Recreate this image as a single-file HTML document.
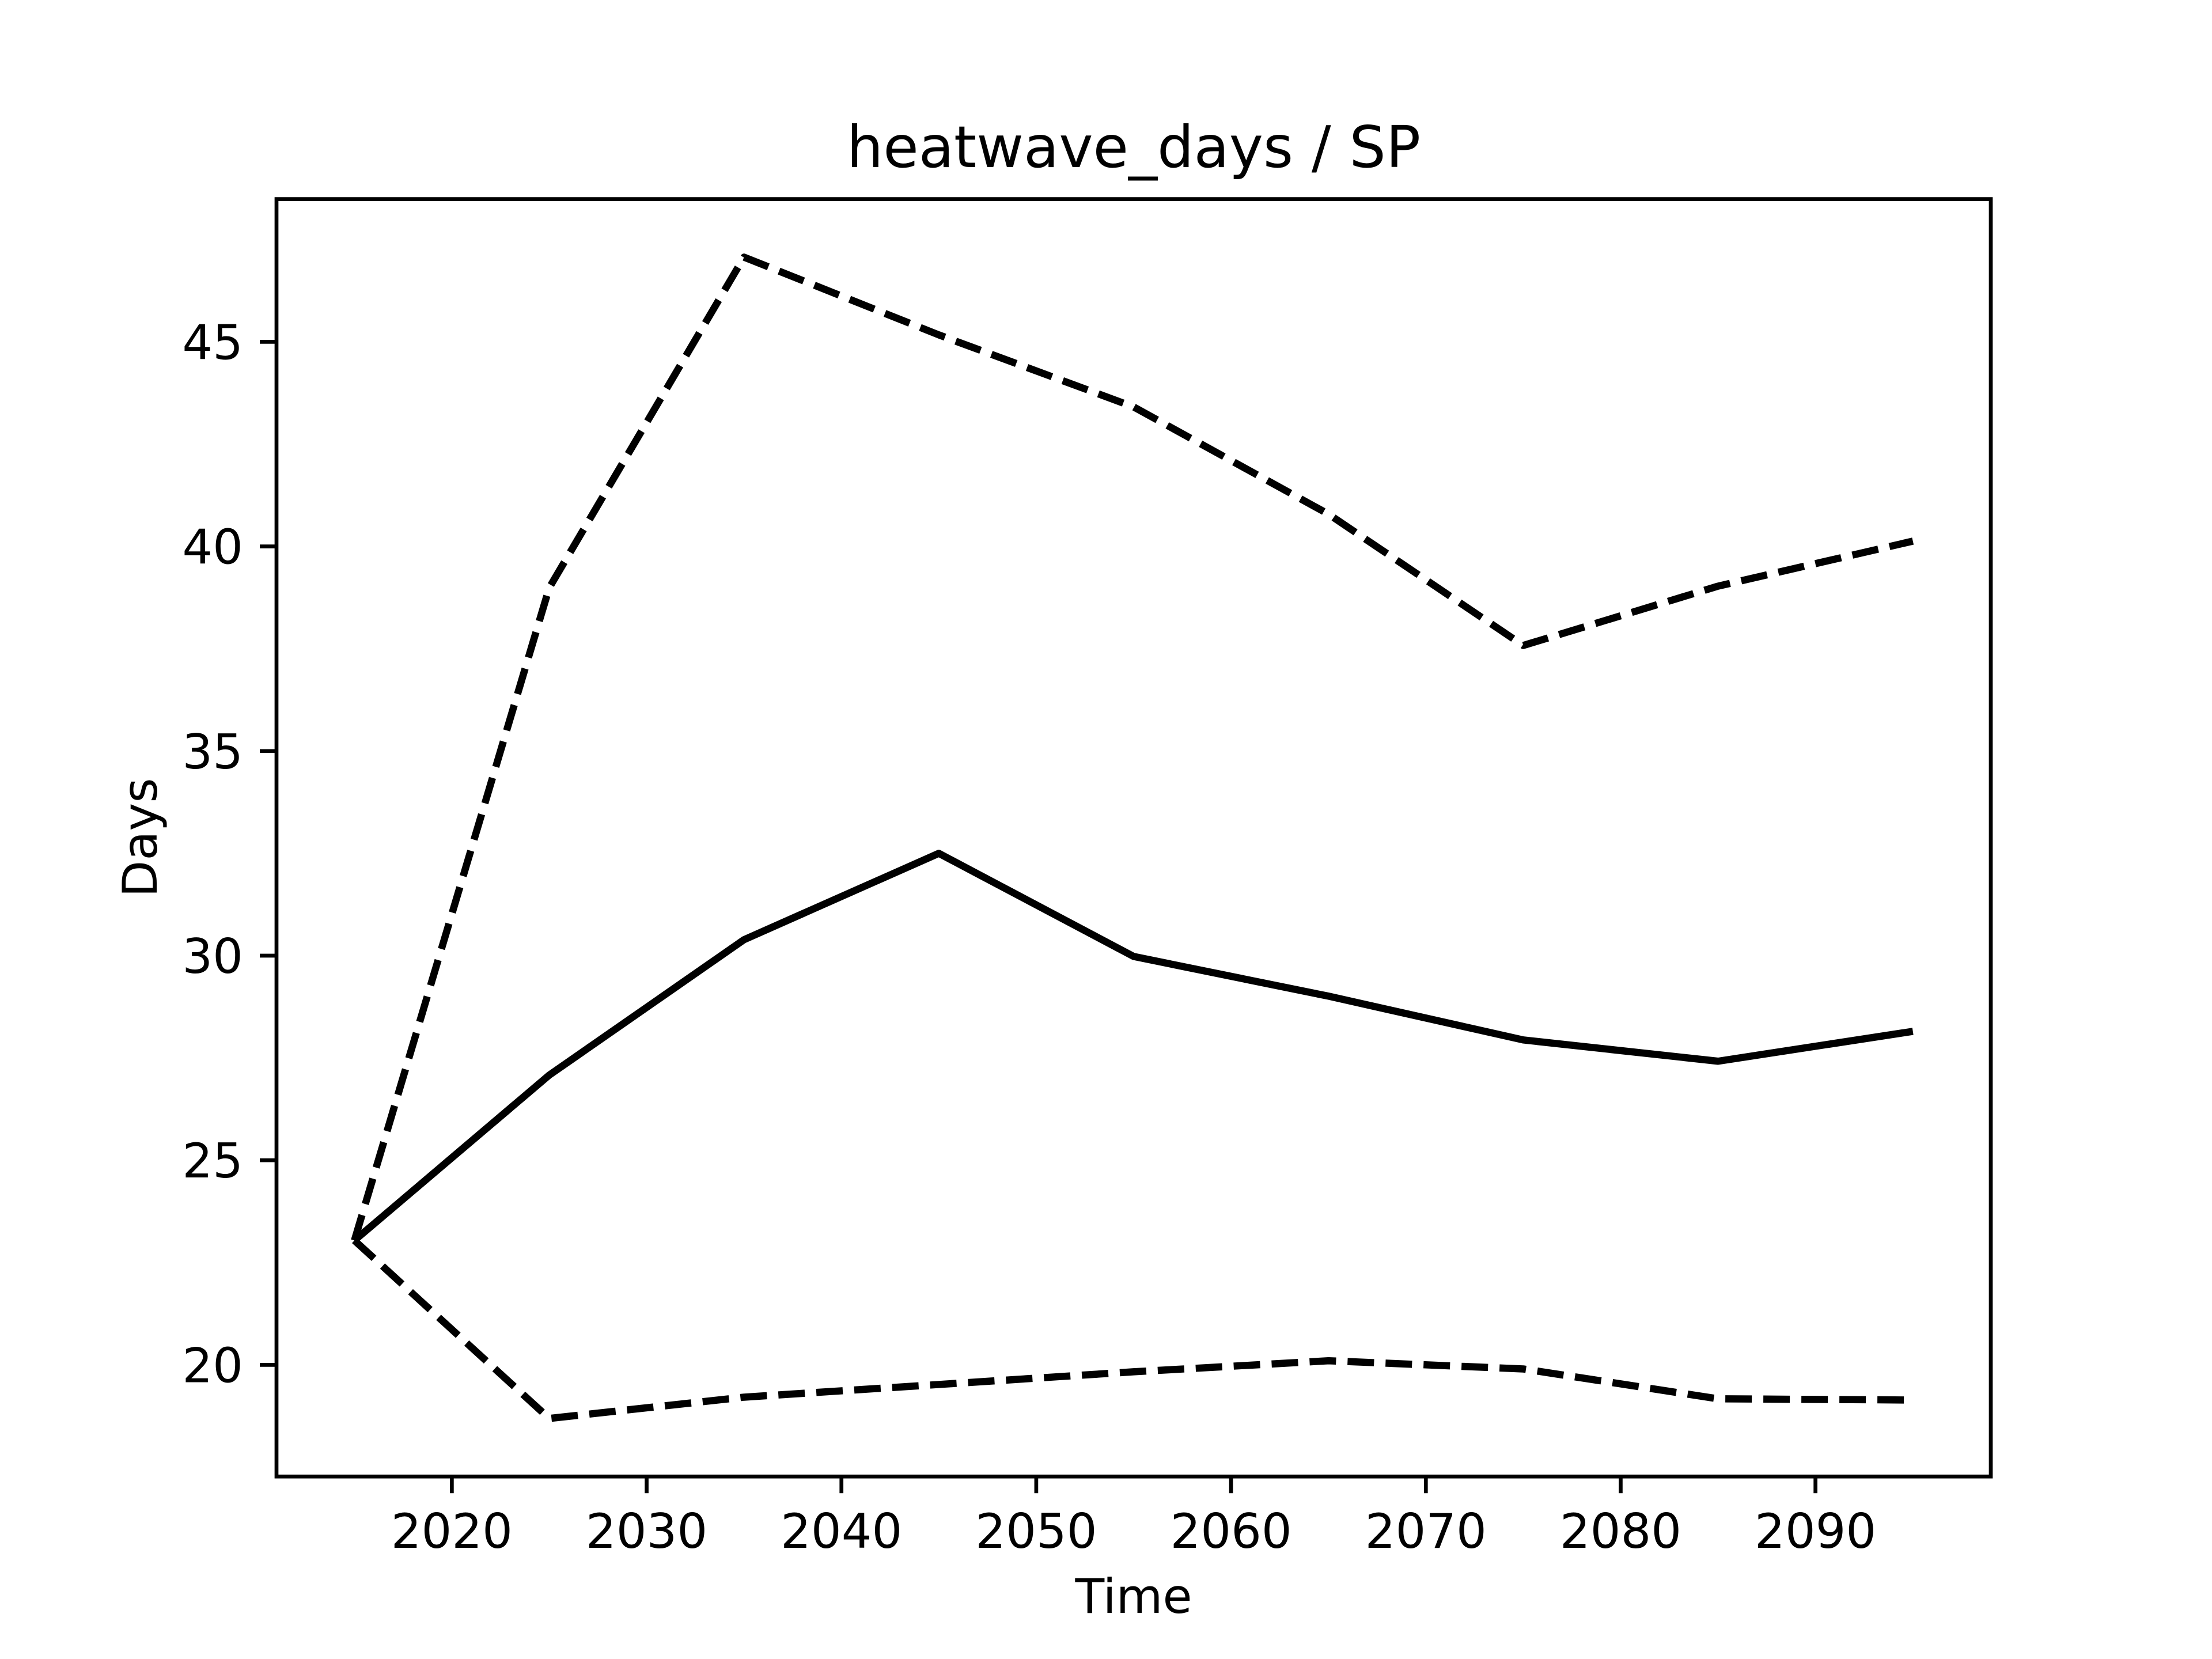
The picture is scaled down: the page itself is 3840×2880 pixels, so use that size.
<!DOCTYPE html>
<html><head><meta charset="utf-8"><style>
html,body{margin:0;padding:0;background:#fff}
svg{display:block}
text{font-family:"DejaVu Sans","Liberation Sans",sans-serif;fill:#000}
</style></head><body>
<svg id="chart" width="3840" height="2880" viewBox="0 0 3840 2880" xmlns="http://www.w3.org/2000/svg">
<rect width="3840" height="2880" fill="#fff"/>
<g id="plot"></g>
<text x="1968" y="290" font-size="100" text-anchor="middle">heatwave_days / SP</text>
<text x="1968" y="2800" font-size="83" text-anchor="middle">Time</text>
<text x="0" y="0" font-size="83" text-anchor="middle" transform="translate(272,1454) rotate(-90)">Days</text>
</svg>
<script>
const years = [2015,2025,2035,2045,2055,2065,2075,2085,2095];
const meanValues = [23.04,27.08,30.39,32.5,29.98,29.01,27.94,27.42,28.15];
const upperValues = [23.04,38.99,47.07,45.17,43.41,40.79,37.58,39.03,40.13];
const lowerValues = [23.04,18.69,19.21,19.52,19.83,20.1,19.9,19.17,19.14];
const xTicks = [2020,2030,2040,2050,2060,2070,2080,2090];
const yTicks = [20,25,30,35,40,45];

const L=480,R=3456,T=345.6,B=2563.2;
const NS='http://www.w3.org/2000/svg';
const xmin=Math.min(...years),xmax=Math.max(...years),xm=(xmax-xmin)*0.05;
const all=[...meanValues,...upperValues,...lowerValues];
const ymin=Math.min(...all),ymax=Math.max(...all),ym=(ymax-ymin)*0.05;
const xs=v=>L+(v-(xmin-xm))/((xmax+xm)-(xmin-xm))*(R-L);
const ys=v=>B-(v-(ymin-ym))/((ymax+ym)-(ymin-ym))*(B-T);
const g=document.getElementById('plot');
function mk(tag,attrs){const e=document.createElementNS(NS,tag);for(const k in attrs)e.setAttribute(k,attrs[k]);g.appendChild(e);return e;}
function series(vals,name,dash){
  const p=mk('polyline',{points:years.map((y,i)=>xs(y)+','+ys(vals[i])).join(' '),fill:'none',stroke:'#000','stroke-width':12.5,'stroke-linejoin':'round'});
  if(dash)p.setAttribute('stroke-dasharray','46 20');
  
  
}
series(upperValues,'upper-bound-line',true);
series(lowerValues,'lower-bound-line',true);
series(meanValues,'mean-line',false);
const frame=mk('rect',{x:L,y:T,width:R-L,height:B-T,fill:'none',stroke:'#000','stroke-width':6.7});


xTicks.forEach(v=>{
  const x=xs(v);
  const t=mk('line',{x1:x,x2:x,y1:B,y2:B+29,stroke:'#000','stroke-width':6.7});
  
  
  const l=mk('text',{x:x,y:B+29+29+66,'font-size':83,'text-anchor':'middle'});
  l.textContent=v;
  
  
});
yTicks.forEach(v=>{
  const y=ys(v);
  const t=mk('line',{x1:L-29,x2:L,y1:y,y2:y,stroke:'#000','stroke-width':6.7});
  
  
  const l=mk('text',{x:L-29-29,y:y+30,'font-size':83,'text-anchor':'end'});
  l.textContent=v;
  
  
});
</script>
</body></html>
